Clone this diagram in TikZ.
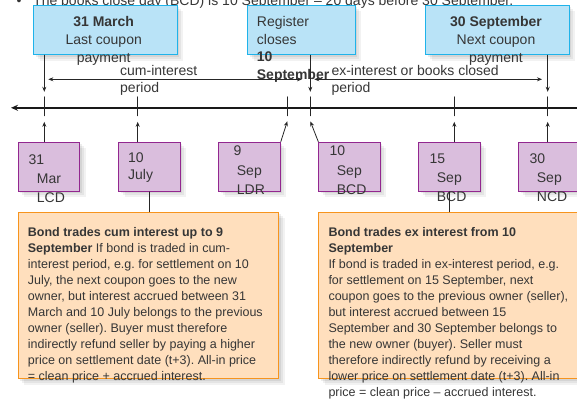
\documentclass[tikz,border=0pt]{standalone}
\usepackage{fontspec}
\setmainfont{Liberation Sans}
\usepackage{xcolor}
\usetikzlibrary{arrows.meta,shadows}
\definecolor{boxblue}{HTML}{B9E3F7}
\definecolor{lineblue}{HTML}{1FB3EA}
\definecolor{boxlilac}{HTML}{DABEDD}
\definecolor{linelilac}{HTML}{92278F}
\definecolor{boxpeach}{HTML}{FFDFBD}
\definecolor{lineorange}{HTML}{F7941D}
\definecolor{txt}{HTML}{363636}
\frenchspacing

\begin{document}
\begin{tikzpicture}[x=1pt, y=-1pt]
  \tikzstyle{myline}=[black!85, line cap=round, line join=round, line width=0.8pt];
  \tikzstyle{tip}=[myline, -{Stealth[length=5pt, width=4pt]}];
  \tikzstyle{soft}=[general shadow={fill=black, opacity=0.07, shadow xshift=2pt, shadow yshift=-2pt},
    general shadow={fill=black, opacity=0.06, shadow xshift=4pt, shadow yshift=-4pt},
    general shadow={fill=black, opacity=0.05, shadow xshift=6pt, shadow yshift=-6pt}];
  \tikzstyle{lbl}=[inner sep=0pt, text=txt, font=\fontsize{14}{17.5}\selectfont];
  \tikzstyle{body}=[inner sep=0pt, text=txt, font=\fontsize{12.5}{16}\selectfont,
    align=left, anchor=north west];
  \useasboundingbox (0,0) rectangle (577,401);
  %
  % note on top, partly hidden by the boxes
  \node[lbl, anchor=base west] (dot) at (16.5,5.5) {•};
  \node[lbl, anchor=base west] (note) at (33,5.5)
    {The books close day (BCD) is 10 September – 20 days before 30 September.};
  %
  % blue boxes
  \tikzstyle{blueb}=[draw=lineblue, fill=boxblue, line width=0.9pt, soft,
    anchor=north west, minimum height=49.3pt, inner sep=0pt];
  \node[blueb, minimum width=143.4pt] (lcp) at (33.3,5) {};
  \node[blueb, minimum width=107.4pt] (reg) at (247.3,5) {};
  \node[blueb, minimum width=143.4pt] (ncp) at (425.3,5) {};
  \node[lbl, anchor=north, align=center, font=\fontsize{14}{17.8}\selectfont]
    (lcptxt) at (103.7,16.6) {\textbf{31 March}\\Last coupon\\payment};
  \node[lbl, anchor=north west, align=left, font=\fontsize{14}{17.4}\selectfont]
    (regtxt) at (256.7,16.6) {Register\\closes\\\textbf{10}\\\textbf{September}};
  \node[lbl, anchor=north, align=center, font=\fontsize{14}{17.8}\selectfont]
    (ncptxt) at (496,16.6) {\textbf{30 September}\\Next coupon\\payment};
  %
  % periods
  \coordinate (cumL) at (48.3,79.3);
  \coordinate (cumR) at (302,79.3);
  \coordinate (exL) at (314.3,79.3);
  \coordinate (exR) at (542,79.3);
  \draw[myline, {Stealth[length=5pt, width=4pt]}-{Stealth[length=5pt, width=4pt]}] (cumL) -- (cumR);
  \draw[myline, {Stealth[length=5pt, width=4pt]}-{Stealth[length=5pt, width=4pt]}] (exL) -- (exR);
  \node[lbl, anchor=north west, align=left, font=\fontsize{14}{16.6}\selectfont]
    (cumtxt) at (120,65.4) {cum-interest\\period};
  \node[lbl, anchor=north west, align=left, font=\fontsize{14}{16.6}\selectfont]
    (extxt) at (331.3,65.4) {ex-interest or books closed\\period};
  %
  % time line and ticks
  \coordinate (lineR) at (577,107.8);
  \coordinate (lineL) at (11,107.8);
  \draw[black!90, line width=2pt, -{Stealth[length=7pt, width=6pt]}] (lineR) -- (lineL);
  \coordinate (t1) at (44.3,107.8);
  \coordinate (t2) at (137.7,107.8);
  \coordinate (t3) at (287.3,107.8);
  \coordinate (t4) at (310.3,107.8);
  \coordinate (t5) at (454.3,107.8);
  \coordinate (t6) at (547.7,107.8);
  \foreach \t in {t1,t2,t3,t4,t5,t6}
    \draw[myline] ([yshift=11pt]\t) -- ([yshift=-8pt]\t);
  %
  % arrows down from the blue boxes
  \draw[tip] (lcp.south -| t1) -- ([yshift=16pt]t1);
  \draw[tip] (reg.south -| t4) -- ([yshift=16pt]t4);
  \draw[tip] (ncp.south -| t6) -- ([yshift=16pt]t6);
  %
  % date boxes
  \tikzstyle{purb}=[draw=linelilac, fill=boxlilac, line width=0.9pt, soft,
    anchor=north west, minimum width=61.6pt, minimum height=49.3pt, inner sep=0pt];
  \node[purb] (lcd) at (17.7,141.7) {};
  \node[purb] (jul) at (118.3,141.7) {};
  \node[purb] (ldr) at (218.3,141.7) {};
  \node[purb] (bcd) at (318.3,141.7) {};
  \node[purb] (set) at (418.3,141.7) {};
  \node[purb] (ncd) at (518.3,141.7) {};
  \tikzstyle{datetxt}=[lbl, anchor=north west, align=left, font=\fontsize{14}{18.8}\selectfont];
  \node[datetxt] (lcdtxt) at (28.3,155) {31\\\hspace*{8.4pt}Mar\\\hspace*{8.4pt}LCD};
  \node[datetxt, font=\fontsize{14}{17}\selectfont] (jultxt) at (128,153) {10\\July};
  \node[datetxt, font=\fontsize{14}{19.5}\selectfont] (ldrtxt) at (233.3,146) {9\\\hspace*{3.4pt}Sep\\\hspace*{3.4pt}LDR};
  \node[datetxt, font=\fontsize{14}{19.5}\selectfont] (bcdtxt) at (329.3,146) {10\\\hspace*{7.4pt}Sep\\\hspace*{7.4pt}BCD};
  \node[datetxt] (settxt) at (429.3,154) {15\\\hspace*{7.4pt}Sep\\\hspace*{7.4pt}BCD};
  \node[datetxt] (ncdtxt) at (529.3,154) {30\\\hspace*{7.4pt}Sep\\\hspace*{7.4pt}NCD};
  %
  % arrows up to the time line
  \draw[tip] (lcd.north -| t1) -- ([yshift=-14pt]t1);
  \draw[tip] (jul.north -| t2) -- ([yshift=-14pt]t2);
  \draw[tip] (ldr.north east) -- ([yshift=-13.5pt]t3);
  \draw[tip] (bcd.north west) -- ([yshift=-13.5pt]t4);
  \draw[tip] (set.north -| t5) -- ([yshift=-14pt]t5);
  \draw[tip] (ncd.north -| t6) -- ([yshift=-14pt]t6);
  %
  % explanation boxes
  \tikzstyle{orb}=[draw=lineorange, fill=boxpeach, line width=0.9pt, soft,
    anchor=north west, minimum height=166.6pt, inner sep=0pt];
  \node[orb, minimum width=260.6pt] (cum) at (17.7,211.7) {};
  \node[orb, minimum width=258.2pt] (ex) at (318.3,211.7) {};
  \draw[myline] (jul.south) -- (jul.south |- cum.north);
  \draw[myline] (set.south) -- (set.south |- ex.north);
  \node[body] (cumtext) at (27.7,227.5)
    {\textbf{Bond trades cum interest up to 9}\\
     \textbf{September} If bond is traded in cum-\\
     interest period, e.g. for settlement on 10\\
     July, the next coupon goes to the new\\
     owner, but interest accrued between 31\\
     March and 10 July belongs to the previous\\
     owner (seller). Buyer must therefore\\
     indirectly refund seller by paying a higher\\
     price on settlement date (t+3). All-in price\\
     = clean price + accrued interest.};
  \node[body] (extext) at (328.3,227.5)
    {\textbf{Bond trades ex interest from 10}\\
     \textbf{September}\\
     If bond is traded in ex-interest period, e.g.\\
     for settlement on 15 September, next\\
     coupon goes to the previous owner (seller),\\
     but interest accrued between 15\\
     September and 30 September belongs to\\
     the new owner (buyer). Seller must\\
     therefore indirectly refund by receiving a\\
     lower price on settlement date (t+3). All-in\\
     price = clean price – accrued interest.};
\end{tikzpicture}
\end{document}
